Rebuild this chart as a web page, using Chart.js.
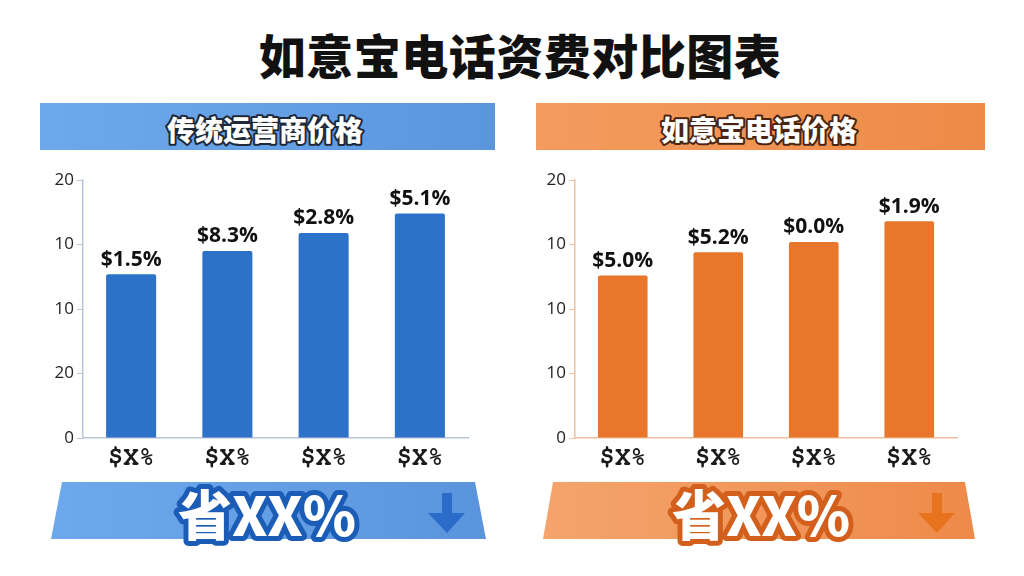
<!DOCTYPE html>
<html>
<head>
<meta charset="utf-8">
<script src="https://cdn.jsdelivr.net/npm/chart.js@4/dist/chart.umd.min.js"></script>
<style>
  html, body { margin: 0; padding: 0; background: #ffffff; }
  #wrap { position: relative; width: 1024px; height: 576px; overflow: hidden; background: #fff; }
  .cv { position: absolute; }
  #deco { position: absolute; left: 0; top: 0; }
</style>
</head>
<body>
<div id="wrap">
  <svg id="deco" width="1024" height="576" viewBox="0 0 1024 576">
    <defs>
      <linearGradient id="gBlueHead" x1="0" y1="0" x2="1" y2="0">
        <stop offset="0" stop-color="#6ea8ec"/>
        <stop offset="1" stop-color="#5b95dc"/>
      </linearGradient>
      <linearGradient id="gOrHead" x1="0" y1="0" x2="1" y2="0">
        <stop offset="0" stop-color="#f39c5e"/>
        <stop offset="1" stop-color="#ee8a48"/>
      </linearGradient>
      <linearGradient id="gBlueBan" x1="0" y1="0" x2="1" y2="0">
        <stop offset="0" stop-color="#6ea8ec"/>
        <stop offset="1" stop-color="#5a94dc"/>
      </linearGradient>
      <linearGradient id="gOrBan" x1="0" y1="0" x2="1" y2="0">
        <stop offset="0" stop-color="#f4a46c"/>
        <stop offset="1" stop-color="#ee8a4a"/>
      </linearGradient>
    </defs>
    <text x="520" y="53" text-anchor="middle" dominant-baseline="central"
          font-family="Noto Sans CJK SC" font-weight="900" font-size="47" letter-spacing="0.5" fill="#111">如意宝电话资费对比图表</text>

    <rect x="40" y="103" width="455" height="47" fill="url(#gBlueHead)"/>
    <text x="265" y="129" text-anchor="middle" dominant-baseline="central"
          font-family="Noto Sans CJK SC" font-weight="900" font-size="28" fill="#fff"
          stroke="#1d2838" stroke-width="4" stroke-linejoin="round" paint-order="stroke">传统运营商价格</text>

    <rect x="536" y="103" width="449" height="47" fill="url(#gOrHead)"/>
    <text x="759" y="129" text-anchor="middle" dominant-baseline="central"
          font-family="Noto Sans CJK SC" font-weight="900" font-size="28" fill="#fff"
          stroke="#4a2410" stroke-width="4" stroke-linejoin="round" paint-order="stroke">如意宝电话价格</text>

    <polygon points="62,482 475,482 486,539 51,539" fill="url(#gBlueBan)"/>
    <text x="267" y="512" text-anchor="middle" dominant-baseline="central"
          font-family="Noto Sans CJK SC" font-weight="900" font-size="54" fill="#fff"
          stroke="#1b5cb6" stroke-width="10" stroke-linejoin="round" paint-order="stroke">省XX%</text>
    <path d="M442,493 L452,493 L452,513 L465,513 L447,533 L428,513 L442,513 Z" fill="#2b6ccb"/>

    <polygon points="553,482 965,482 975,539 543,539" fill="url(#gOrBan)"/>
    <text x="761" y="512" text-anchor="middle" dominant-baseline="central"
          font-family="Noto Sans CJK SC" font-weight="900" font-size="54" fill="#fff"
          stroke="#d2601c" stroke-width="10" stroke-linejoin="round" paint-order="stroke">省XX%</text>
    <path d="M932,493 L942,493 L942,513 L955,513 L937,533 L918,513 L932,513 Z" fill="#e8731f"/>
  </svg>
  <canvas id="c1" class="cv" style="left:40px;top:160px;width:440px;height:320px;" width="440" height="320"></canvas>
  <canvas id="c2" class="cv" style="left:532px;top:160px;width:440px;height:320px;" width="440" height="320"></canvas>
</div>
<script>
// ---- data ----
const categories = ["$X%", "$X%", "$X%", "$X%"];
const traditionalValues = [12.7, 14.5, 15.9, 17.4];
const traditionalLabels = ["$1.5%", "$8.3%", "$2.8%", "$5.1%"];
const ruyiValues = [12.6, 14.4, 15.2, 16.8];
const ruyiLabels = ["$5.0%", "$5.2%", "$0.0%", "$1.9%"];
const leftTickLabels = ["0", "20", "10", "10", "20"];   // bottom to top
const rightTickLabels = ["0", "10", "10", "10", "20"];  // bottom to top

const valueLabelPlugin = {
  id: 'valueLabels',
  afterDatasetsDraw(chart, args, opts) {
    const ctx = chart.ctx;
    const meta = chart.getDatasetMeta(0);
    ctx.save();
    ctx.font = 'bold 21px "Open Sans"';
    ctx.fillStyle = '#111';
    ctx.textAlign = 'center';
    ctx.textBaseline = 'bottom';
    meta.data.forEach((bar, i) => {
      ctx.fillText(opts.labels[i], bar.x, bar.y - 4);
    });
    ctx.restore();
  }
};

function makeChart(id, values, labels, tickLabels, barColor, axisColor, padRight) {
  return new Chart(document.getElementById(id), {
    type: 'bar',
    data: {
      labels: categories,
      datasets: [{
        data: values,
        backgroundColor: barColor,
        borderRadius: 2,
        borderSkipped: 'bottom',
        barPercentage: 0.52,
        categoryPercentage: 1.0
      }]
    },
    options: {
      responsive: false,
      animation: false,
      devicePixelRatio: 1,
      layout: { padding: { top: 20, right: padRight, left: 0, bottom: 0 } },
      plugins: {
        legend: { display: false },
        tooltip: { enabled: false },
        valueLabels: { labels: labels }
      },
      scales: {
        x: {
          grid: { display: false, drawTicks: false },
          border: { display: true, color: axisColor, width: 1.5 },
          ticks: {
            color: '#1a1a1a',
            font: { family: 'FreeMono, "Courier New", monospace', weight: 'bold', size: 26 },
            padding: 4
          },
          afterFit(scale) { scale.height = 42; }
        },
        y: {
          min: 0, max: 20,
          grid: { display: true, drawOnChartArea: false, drawTicks: true, tickLength: 6, color: axisColor },
          border: { display: true, color: axisColor, width: 1.5 },
          ticks: {
            stepSize: 5,
            color: '#222',
            font: { family: '"Open Sans"', size: 17 },
            padding: 3,
            callback: (v, i) => tickLabels[i]
          },
          afterFit(scale) { scale.width = 43; }
        }
      }
    },
    plugins: [valueLabelPlugin]
  });
}

function build() {
  makeChart('c1', traditionalValues, traditionalLabels, leftTickLabels, '#2c72c9', '#b9c5d6', 12);
  makeChart('c2', ruyiValues, ruyiLabels, rightTickLabels, '#e8772b', '#eec0a0', 15);
}
Promise.all([
  document.fonts.load('bold 26px FreeMono'),
  document.fonts.load('bold 21px "Open Sans"'),
  document.fonts.load('17px "Open Sans"')
]).then(build, build);
</script>
</body>
</html>
